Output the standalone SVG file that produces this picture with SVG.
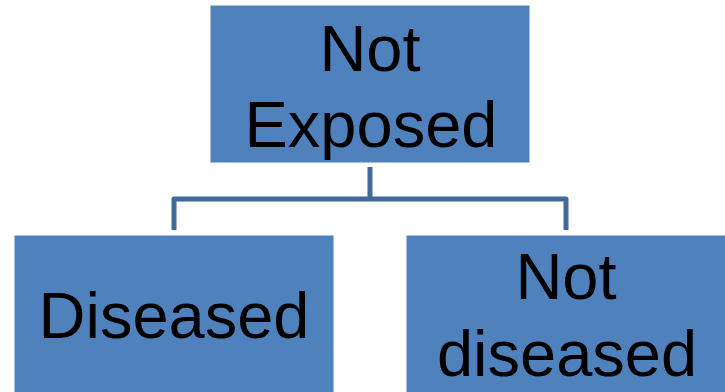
<svg xmlns="http://www.w3.org/2000/svg" width="725" height="392" viewBox="0 0 725 392">
  <style>
    .box { fill: #4F81BD; stroke: #4F81BD; stroke-width: 1; }
    .label { font-family: "Liberation Sans", Arial, sans-serif; font-size: 65px; fill: #000000; text-anchor: middle; }
    .link { fill: none; stroke: #41699A; stroke-width: 5; stroke-linejoin: round; }
  </style>
  <rect width="725" height="392" fill="#FFFFFF"/>
  <g id="connectors">
    <path class="link" d="M370,167 V199"/>
    <path class="link" d="M174,230 V199 H566 V230"/>
  </g>
  <g id="not-exposed">
    <rect class="box" x="211" y="6" width="318" height="156"/>
    <text class="label" x="370" y="71">Not</text>
    <text class="label" x="371" y="147">Exposed</text>
  </g>
  <g id="diseased">
    <rect class="box" x="15" y="236" width="318" height="156"/>
    <text class="label" x="174" y="338">Diseased</text>
  </g>
  <g id="not-diseased">
    <rect class="box" x="407" y="236" width="318" height="156"/>
    <text class="label" x="566" y="299">Not</text>
    <text class="label" x="567" y="376">diseased</text>
  </g>
</svg>
